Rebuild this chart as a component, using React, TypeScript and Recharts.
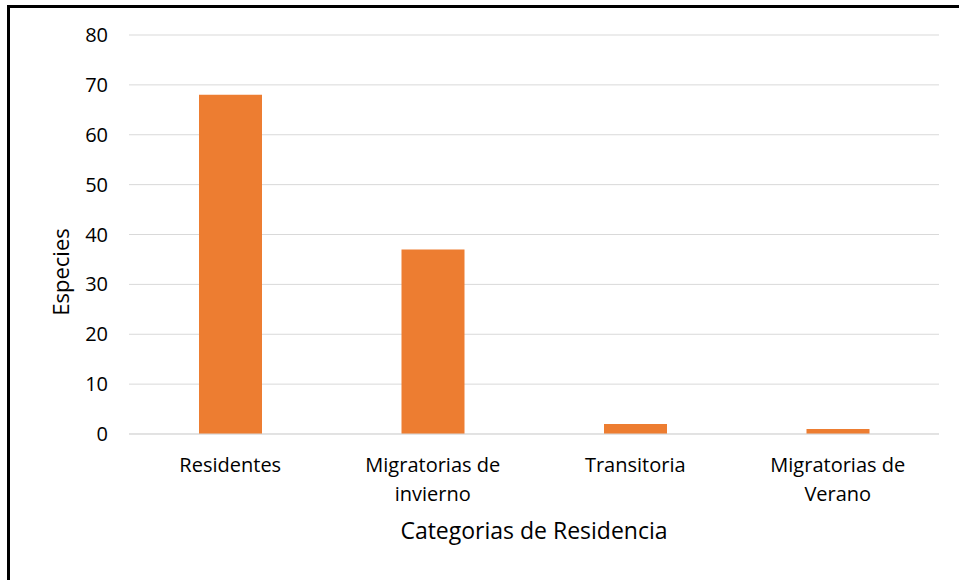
import React from "react";
import { BarChart, Bar, XAxis, YAxis, CartesianGrid, Label } from "recharts";

const categories = ["Residentes", "Migratorias de invierno", "Transitoria", "Migratorias de Verano"];
const especies = [68, 37, 2, 1];
const yTicks = [0, 10, 20, 30, 40, 50, 60, 70, 80];
const xTitle = "Categorias de Residencia";
const yTitle = "Especies";

const data = categories.map((c, i) => ({ name: c, value: especies[i] }));

const FONT = "'Open Sans', sans-serif";

function wrap(s: string, max: number): string[] {
  const words = s.split(" ");
  const lines: string[] = [];
  let cur = "";
  for (const w of words) {
    const t = cur ? cur + " " + w : w;
    if (t.length > max && cur) {
      lines.push(cur);
      cur = w;
    } else cur = t;
  }
  if (cur) lines.push(cur);
  return lines;
}

const XTick = (props: any) => {
  const { x, y, payload } = props;
  const lines = wrap(String(payload.value), 15);
  return (
    <text x={x} y={y} textAnchor="middle" fill="#000" fontSize={20} fontFamily={FONT}>
      {lines.map((l, i) => (
        <tspan key={i} x={x} y={y + 38 + i * 29}>
          {l}
        </tspan>
      ))}
    </text>
  );
};

export default function App() {
  return (
    <div style={{ position: "absolute", left: 0, top: 0, width: 959, height: 580, overflow: "hidden", background: "#fff" }}>
      <div
        style={{
          position: "absolute",
          left: 7,
          top: 5,
          width: 952,
          height: 575,
          boxSizing: "border-box",
          borderLeft: "3px solid #000",
          borderTop: "3px solid #000",
        }}
      />
      <div style={{ position: "absolute", left: 0, top: 0 }}>
        <BarChart width={959} height={580} data={data} margin={{ top: 35, right: 20, bottom: 0, left: 0 }}>
          <CartesianGrid vertical={false} stroke="#d9d9d9" strokeWidth={1} />
          <XAxis
            dataKey="name"
            height={146}
            tickLine={false}
            tickSize={0}
            tickMargin={0}
            axisLine={{ stroke: "#d9d9d9", strokeWidth: 1 }}
            tick={<XTick />}
            interval={0}
          >
            <Label
              content={(p: any) => {
                const vb = p.viewBox;
                return (
                  <text
                    x={vb.x + vb.width / 2}
                    y={vb.y + 105}
                    textAnchor="middle"
                    fontSize={23}
                    fontFamily={FONT}
                    fill="#000"
                  >
                    {xTitle}
                  </text>
                );
              }}
            />
          </XAxis>
          <YAxis
            width={129}
            domain={[0, 80]}
            ticks={yTicks}
            tickLine={false}
            axisLine={false}
            tickSize={0}
            tickMargin={21}
            tick={{ fill: "#000", fontSize: 20, fontFamily: FONT }}
          >
            <Label
              content={() => (
                <text
                  x={60}
                  y={272}
                  transform="rotate(-90 60 272)"
                  textAnchor="middle"
                  dominantBaseline="central"
                  fontSize={22}
                  fontFamily={FONT}
                  fill="#000"
                >
                  {yTitle}
                </text>
              )}
            />
          </YAxis>
          <Bar dataKey="value" fill="#ED7D31" barSize={63} isAnimationActive={false} />
        </BarChart>
      </div>
    </div>
  );
}
